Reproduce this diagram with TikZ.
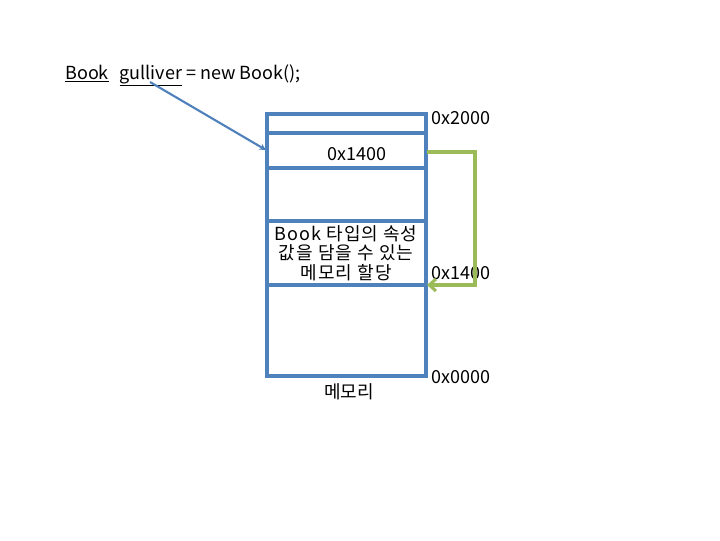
\documentclass[tikz,border=0pt]{standalone}
\usepackage{fontspec}
\setmainfont{Noto Sans CJK KR}
\usetikzlibrary{arrows.meta}
\definecolor{boxblue}{HTML}{4F81BD}
\definecolor{linkgreen}{HTML}{9BBB59}
\begin{document}
\begin{tikzpicture}[x=0.75pt,y=-0.75pt,
  memline/.style={draw=boxblue,line width=2.3pt},
  lbl/.style={inner sep=0pt,font=\fontsize{13.5}{14.6}\selectfont},
  addr/.style={lbl,anchor=center}]
\useasboundingbox (0,0) rectangle (720,540);
% memory box
\draw[memline] (267,114) rectangle (426,376);
\foreach \yy in {133,168,221,285}
  \draw[memline] (267,\yy) -- (426,\yy);
% code text
\node[lbl,anchor=base west] (code) at (65,79) {\underline{Book}\hspace{0.6em}\underline{gulliver} = new Book();};
\coordinate (gul) at (150,82);
\coordinate (slot) at (266,150);
\draw[boxblue,line width=1.6pt,-{Stealth[length=5pt,width=5pt]}] (gul) -- (slot);
% labels
\node[addr] (a2000) at (461,118) {0x2000};
\node[addr] (ref) at (357,154) {0x1400};
\node[lbl,align=center,font=\fontsize{13.5}{14.6}\selectfont\addfontfeature{LetterSpace=6}] (desc) at (346,253) {Book 타입의 속성\\값을 담을 수 있는\\메모리 할당};
\node[addr] (a1400) at (461,273) {0x1400};
\node[addr] (a0000) at (461,377) {0x0000};
\node[addr] (mem) at (349,392) {메모리};
% green pointer
\coordinate (gs) at (427,152);
\coordinate (gc1) at (475,152);
\coordinate (gc2) at (475,285);
\coordinate (ge) at (427,285);
\draw[linkgreen,line width=2.3pt,-{Straight Barb[length=5pt,width=9pt]}] (gs) -- (gc1) -- (gc2) -- (ge);
\end{tikzpicture}
\end{document}
